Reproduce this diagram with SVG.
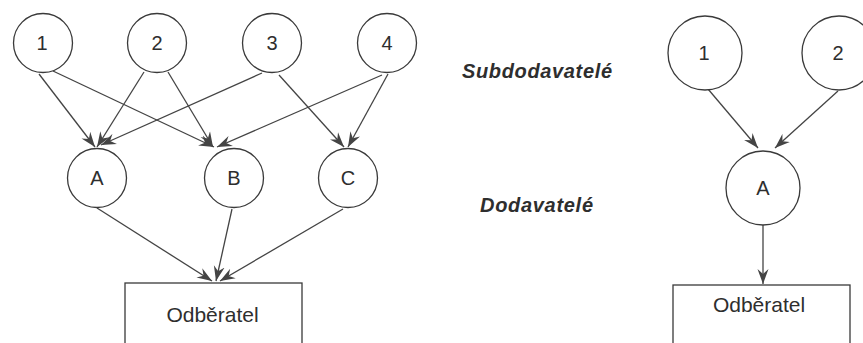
<svg xmlns="http://www.w3.org/2000/svg" width="863" height="343" viewBox="0 0 863 343">
<style>
.node{fill:#fff;stroke:#3a3a3a;stroke-width:1.3}
.lbl{font-family:"Liberation Sans",Arial,sans-serif;font-size:20px;fill:#2e2e2e;text-anchor:middle}
.box{font-family:"Liberation Sans",Arial,sans-serif;font-size:21px;fill:#2e2e2e;text-anchor:middle}
.cap{font-family:"Liberation Sans",Arial,sans-serif;font-size:20px;font-weight:bold;font-style:italic;fill:#2e2e2e}
.edge{stroke:#444;stroke-width:1.3;fill:none;marker-end:url(#ah)}
</style>
<defs>
<marker id="ah" viewBox="-15 -6 15 12" refX="0" refY="0" markerWidth="15" markerHeight="12" markerUnits="userSpaceOnUse" orient="auto">
<path d="M0,0 L-15,-5.5 L-10,0 L-15,5.5 Z" fill="#444"/>
</marker>
</defs>
<rect width="863" height="343" fill="#fff"/>
<g id="connectors">
<line class="edge" x1="39" y1="74" x2="95" y2="147"/>
<line class="edge" x1="53" y1="71" x2="214" y2="147"/>
<line class="edge" x1="144" y1="72" x2="97" y2="147"/>
<line class="edge" x1="168" y1="72" x2="213" y2="147"/>
<line class="edge" x1="262" y1="73" x2="101" y2="145"/>
<line class="edge" x1="279" y1="75" x2="344" y2="147"/>
<line class="edge" x1="382" y1="75" x2="217" y2="147"/>
<line class="edge" x1="388" y1="74" x2="348" y2="147"/>
<line class="edge" x1="97" y1="208" x2="212" y2="281"/>
<line class="edge" x1="232" y1="209" x2="216" y2="281"/>
<line class="edge" x1="343" y1="209" x2="220" y2="281"/>
<line class="edge" x1="708" y1="89" x2="758" y2="148"/>
<line class="edge" x1="838" y1="91" x2="775" y2="148"/>
<line class="edge" x1="763" y1="225" x2="763" y2="284"/>
</g>
<g id="s1"><circle class="node" cx="43" cy="43" r="29.5"/><text class="lbl" x="42" y="50">1</text></g>
<g id="s2"><circle class="node" cx="157" cy="43" r="29.5"/><text class="lbl" x="157" y="50">2</text></g>
<g id="s3"><circle class="node" cx="272" cy="43" r="29.5"/><text class="lbl" x="272" y="50">3</text></g>
<g id="s4"><circle class="node" cx="387" cy="43" r="29.5"/><text class="lbl" x="387" y="50">4</text></g>
<g id="dA"><circle class="node" cx="97" cy="178" r="29.5"/><text class="lbl" x="97" y="185">A</text></g>
<g id="dB"><circle class="node" cx="234" cy="178" r="29.5"/><text class="lbl" x="234" y="185">B</text></g>
<g id="dC"><circle class="node" cx="348" cy="178" r="29.5"/><text class="lbl" x="348" y="185">C</text></g>
<g id="odb1"><rect class="node" x="125" y="283" width="177" height="70"/><text class="box" x="212.5" y="322">Odběratel</text></g>
<g id="labels">
<text class="cap" x="462" y="78" textLength="150" lengthAdjust="spacing">Subdodavatelé</text>
<text class="cap" x="480" y="212" textLength="113" lengthAdjust="spacing">Dodavatelé</text>
</g>
<g id="r1"><circle class="node" cx="705" cy="53" r="37"/><text class="lbl" x="704" y="60">1</text></g>
<g id="r2"><circle class="node" cx="839" cy="53" r="37"/><text class="lbl" x="838" y="60">2</text></g>
<g id="rA"><circle class="node" cx="763" cy="188" r="37"/><text class="lbl" x="763" y="195">A</text></g>
<g id="odb2"><rect class="node" x="673" y="285" width="177" height="70"/><text class="box" x="759" y="312">Odběratel</text></g>
</svg>
